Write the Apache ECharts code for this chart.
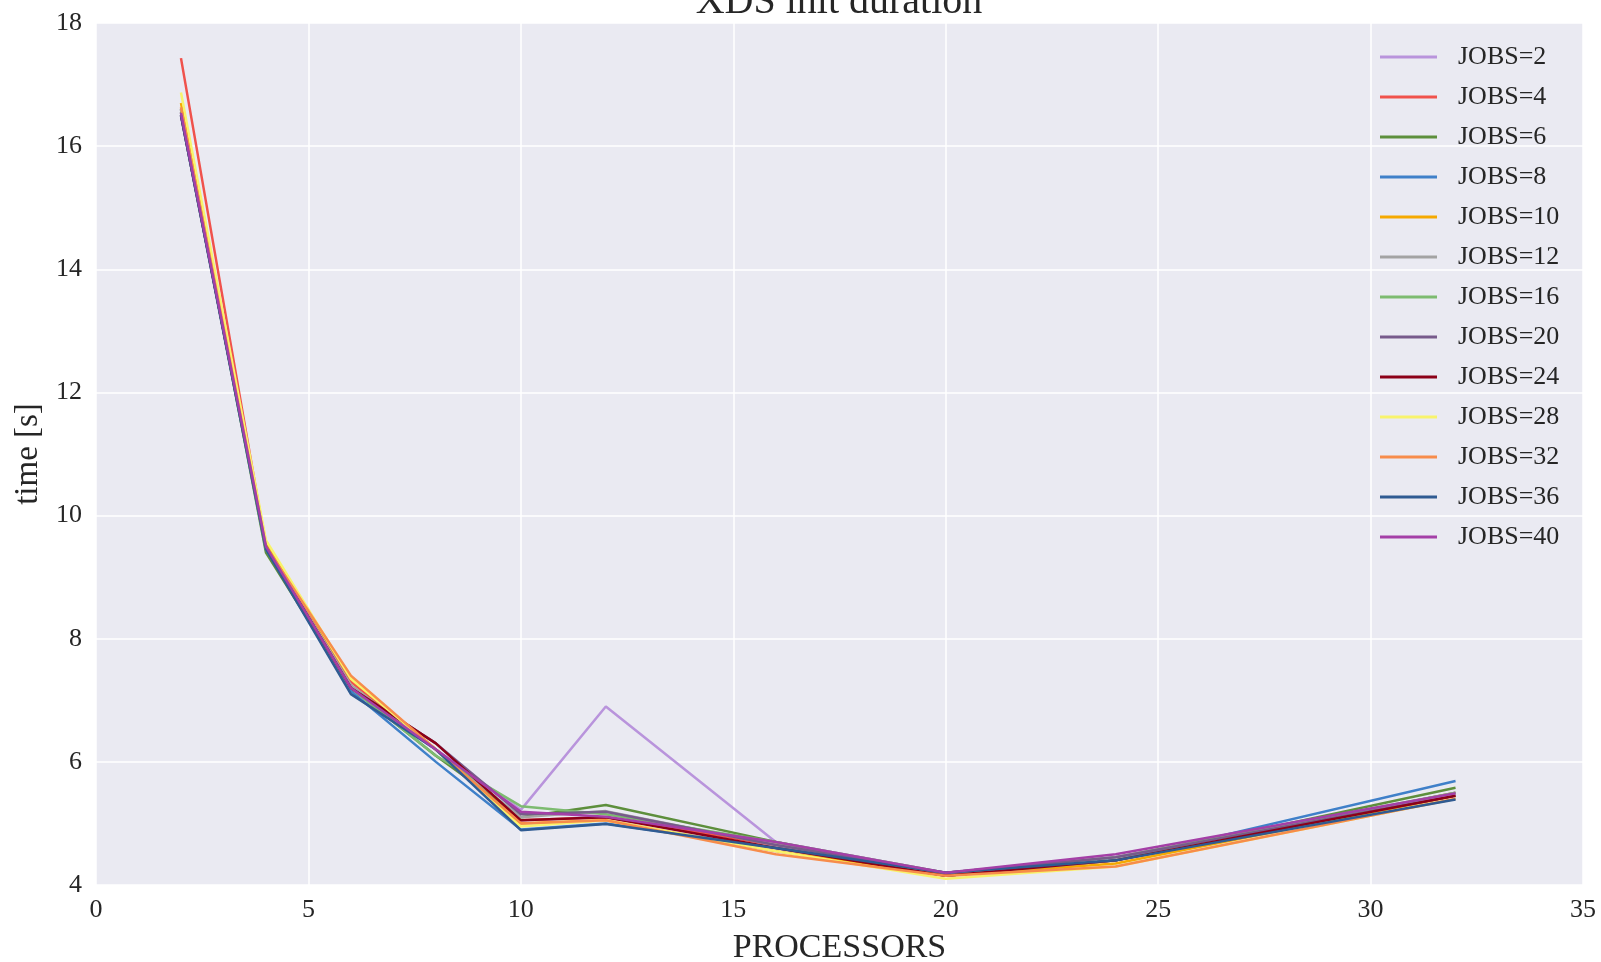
<!DOCTYPE html>
<html>
<head>
<meta charset="utf-8">
<script src="https://cdn.jsdelivr.net/npm/echarts@6/dist/echarts.min.js"></script>
<style>
html,body{margin:0;padding:0;background:#fff;}
#chart{width:1601px;height:962px;}
</style>
</head>
<body>
<div id="chart"></div>
<script>
const processors = [2, 4, 6, 8, 10, 12, 16, 20, 24, 32];
const seriesNames = ['JOBS=2','JOBS=4','JOBS=6','JOBS=8','JOBS=10','JOBS=12','JOBS=16','JOBS=20','JOBS=24','JOBS=28','JOBS=32','JOBS=36','JOBS=40'];
const jobs2  = [16.6, 9.5, 7.2, 6.2, 5.22, 6.9, 4.7, 4.2, 4.45, 5.45];
const jobs4  = [17.43, 9.5, 7.3, 6.2, 5.05, 5.1, 4.65, 4.15, 4.4, 5.5];
const jobs6  = [16.6, 9.4, 7.2, 6.1, 5.1, 5.3, 4.7, 4.15, 4.4, 5.58];
const jobs8  = [16.5, 9.5, 7.15, 6.0, 4.9, 5.0, 4.6, 4.15, 4.4, 5.69];
const jobs10 = [16.7, 9.55, 7.35, 6.2, 5.0, 5.05, 4.55, 4.15, 4.35, 5.45];
const jobs12 = [16.6, 9.5, 7.25, 6.2, 5.1, 5.2, 4.65, 4.15, 4.4, 5.5];
const jobs16 = [16.55, 9.45, 7.2, 6.1, 5.28, 5.15, 4.7, 4.2, 4.45, 5.5];
const jobs20 = [16.55, 9.5, 7.2, 6.3, 5.15, 5.19, 4.65, 4.2, 4.45, 5.45];
const jobs24 = [16.5, 9.5, 7.2, 6.3, 5.05, 5.1, 4.6, 4.15, 4.4, 5.45];
const jobs28 = [16.87, 9.6, 7.35, 6.2, 4.95, 5.05, 4.55, 4.1, 4.3, 5.4];
const jobs32 = [16.63, 9.5, 7.4, 6.2, 5.0, 5.05, 4.5, 4.15, 4.3, 5.4];
const jobs36 = [16.5, 9.45, 7.1, 6.2, 4.89, 4.99, 4.6, 4.2, 4.4, 5.39];
const jobs40 = [16.54, 9.5, 7.2, 6.2, 5.19, 5.11, 4.7, 4.2, 4.5, 5.49];
const allValues = [jobs2, jobs4, jobs6, jobs8, jobs10, jobs12, jobs16, jobs20, jobs24, jobs28, jobs32, jobs36, jobs40];
const colors = ['#b994dc','#f0524c','#5d8f3c','#3f80c9','#f5a900','#a3a3a3','#7dbb70','#775a8b','#8c0018','#f8f36c','#f78c4b','#2f5b92','#a43fa7'];

const FONT = 'Liberation Serif';
const chart = echarts.init(document.getElementById('chart'), null, {renderer: 'canvas'});
const series = seriesNames.map((n, i) => ({
  name: n,
  type: 'line',
  data: processors.map((x, j) => [x, allValues[i][j]]),
  symbol: 'none',
  lineStyle: {width: 2.5, color: colors[i]},
  itemStyle: {color: colors[i]},
  emphasis: {disabled: true},
  animation: false
}));

chart.setOption({
  animation: false,
  color: colors,
  graphic: [{
    type: 'text',
    x: 839, y: 2,
    style: {text: 'XDS init duration', font: '40px "' + FONT + '"', fill: '#262626', align: 'center', verticalAlign: 'middle'}
  }],
  grid: {left: 96, right: 18, top: 23, bottom: 77, show: true, backgroundColor: '#EAEAF2', borderWidth: 0, containLabel: false, outerBoundsMode: 'none'},
  legend: {
    orient: 'vertical',
    left: 1375,
    top: 39,
    itemWidth: 57,
    itemHeight: 3,
    itemGap: 14,
    icon: 'rect',
    textStyle: {fontFamily: FONT, fontSize: 26, color: '#262626', lineHeight: 26, padding: [0, 0, 0, 16]},
    data: seriesNames
  },
  xAxis: {
    type: 'value', min: 0, max: 35, interval: 5,
    name: 'PROCESSORS', nameLocation: 'middle', nameGap: 46,
    nameTextStyle: {fontFamily: FONT, fontSize: 34, color: '#262626'},
    axisLine: {show: false}, axisTick: {show: false},
    axisLabel: {fontFamily: FONT, fontSize: 26, color: '#262626', margin: 12},
    splitLine: {show: true, lineStyle: {color: '#ffffff', width: 1.5}}
  },
  yAxis: {
    type: 'value', min: 4, max: 18, interval: 2,
    name: 'time [s]', nameLocation: 'middle', nameGap: 48, nameRotate: 90,
    nameTextStyle: {fontFamily: FONT, fontSize: 33, color: '#262626'},
    axisLine: {show: false}, axisTick: {show: false},
    axisLabel: {fontFamily: FONT, fontSize: 26, color: '#262626', margin: 14},
    splitLine: {show: true, lineStyle: {color: '#ffffff', width: 1.5}}
  },
  series: series
});
</script>
</body>
</html>
